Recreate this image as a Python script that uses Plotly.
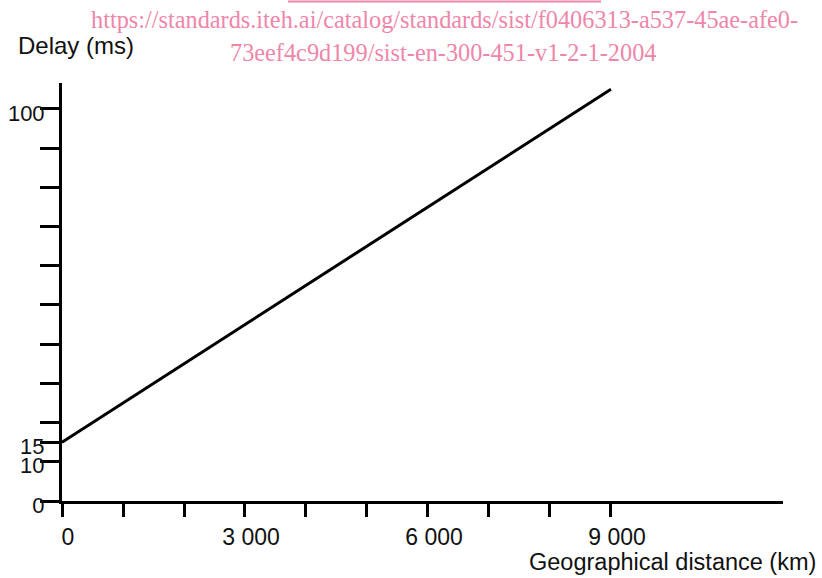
import plotly.graph_objects as go

# Data
distance_km = [0, 9000]
delay_ms = [15, 105]

x_tick_values = [0, 1000, 2000, 3000, 4000, 5000, 6000, 7000, 8000, 9000]
x_tick_labels = ["0", "", "", "3 000", "", "", "6 000", "", "", "9 000"]

y_tick_values = [0, 10, 15, 20, 30, 40, 50, 60, 70, 80, 90, 100]
y_tick_labels = ["0", "10", "15", "", "", "", "", "", "", "", "", "100"]

x_title = "Geographical distance (km)"
y_title = "Delay (ms)"
watermark_line1 = "https://standards.iteh.ai/catalog/standards/sist/f0406313-a537-45ae-afe0-"
watermark_line2 = "73eef4c9d199/sist-en-300-451-v1-2-1-2004"

W, H = 822, 578
L, R, T, B = 62, 39, 83, 77
pw = W - L - R
ph = H - T - B

# helpers: convert target screen pixels into paper fractions
def px_x(p):
    return (p - L) / pw

def px_y(p):
    return (H - B - p) / ph

FONT = "Liberation Sans, Arial, sans-serif"
SERIF = "Liberation Serif, Times New Roman, serif"
PINK = "#EF86AA"

fig = go.Figure()
fig.add_trace(go.Scatter(
    x=distance_km, y=delay_ms, mode="lines",
    line=dict(color="black", width=3),
    hoverinfo="skip", showlegend=False, cliponaxis=False,
))

fig.update_layout(
    width=W, height=H, autosize=False,
    margin=dict(l=L, r=R, t=T, b=B, pad=0, autoexpand=False),
    paper_bgcolor="white", plot_bgcolor="white",
    font=dict(family=FONT, size=24, color="black"),
    showlegend=False,
    xaxis=dict(
        range=[0, 11820], showgrid=False, zeroline=False, automargin=False,
        showline=True, linecolor="black", linewidth=3,
        tickmode="array", tickvals=x_tick_values, ticktext=x_tick_labels,
        ticks="outside", ticklen=13, tickwidth=3, tickcolor="black",
        ticklabelshift=6,
        tickfont=dict(family=FONT, size=23, color="#111"),
    ),
    yaxis=dict(
        range=[0, 106.6], showgrid=False, zeroline=False, automargin=False,
        showline=True, linecolor="black", linewidth=3,
        tickmode="array", tickvals=y_tick_values, ticktext=y_tick_labels,
        ticks="outside", ticklen=19, tickwidth=3, tickcolor="black",
        ticklabelshift=4, ticklabelstandoff=-9,
        tickfont=dict(family=FONT, size=22, color="#111"),
    ),
    annotations=[
        dict(text=x_title, xref="paper", yref="paper",
             x=px_x(818), y=px_y(562), xanchor="right", yanchor="middle",
             showarrow=False, font=dict(family=FONT, size=23.5, color="#111")),
        dict(text=y_title, xref="paper", yref="paper",
             x=px_x(16), y=px_y(46), xanchor="left", yanchor="middle",
             showarrow=False, font=dict(family=FONT, size=24, color="#111")),
        dict(text=watermark_line1, xref="paper", yref="paper",
             x=px_x(444), y=px_y(20), xanchor="center", yanchor="middle",
             showarrow=False, font=dict(family=SERIF, size=24.3, color=PINK)),
        dict(text=watermark_line2, xref="paper", yref="paper",
             x=px_x(443), y=px_y(53), xanchor="center", yanchor="middle",
             showarrow=False, font=dict(family=SERIF, size=24.3, color=PINK)),
    ],
    shapes=[
        dict(type="line", xref="paper", yref="paper",
             x0=px_x(288), x1=px_x(601), y0=px_y(1.5), y1=px_y(1.5),
             line=dict(color=PINK, width=2)),
    ],
)

fig.write_html(
    "out.html",
    config={"displayModeBar": False, "staticPlot": True},
    post_script="document.body.style.margin='0';document.body.style.overflow='hidden';",
)
